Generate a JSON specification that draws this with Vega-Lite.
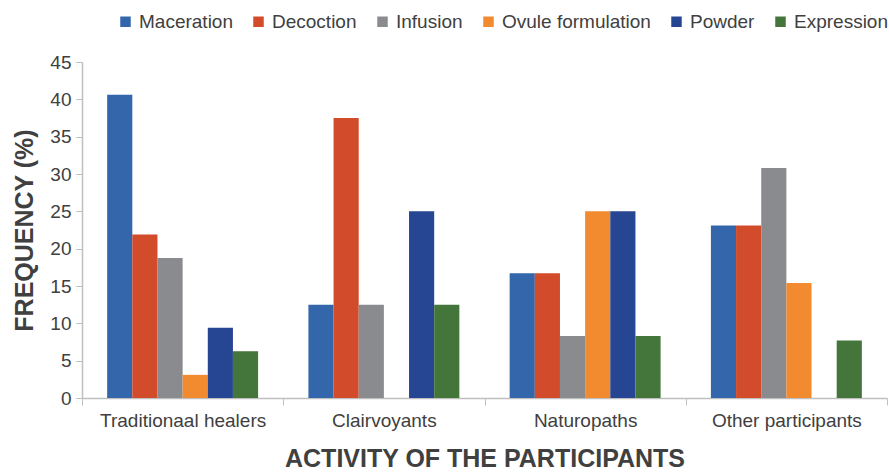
{
  "$schema": "https://vega.github.io/schema/vega-lite/v6.json",
  "autosize": {"type": "none"},
  "padding": {"left": 82, "top": 62, "right": 2, "bottom": 74},
  "width": 805,
  "height": 336,
  "background": "white",
  "data": {
    "values": [
      {"activity": "Traditionaal healers", "method": "Maceration", "freq": 40.6},
      {"activity": "Traditionaal healers", "method": "Decoction", "freq": 21.9},
      {"activity": "Traditionaal healers", "method": "Infusion", "freq": 18.75},
      {"activity": "Traditionaal healers", "method": "Ovule formulation", "freq": 3.1},
      {"activity": "Traditionaal healers", "method": "Powder", "freq": 9.4},
      {"activity": "Traditionaal healers", "method": "Expression", "freq": 6.25},
      {"activity": "Clairvoyants", "method": "Maceration", "freq": 12.5},
      {"activity": "Clairvoyants", "method": "Decoction", "freq": 37.5},
      {"activity": "Clairvoyants", "method": "Infusion", "freq": 12.5},
      {"activity": "Clairvoyants", "method": "Ovule formulation", "freq": 0},
      {"activity": "Clairvoyants", "method": "Powder", "freq": 25},
      {"activity": "Clairvoyants", "method": "Expression", "freq": 12.5},
      {"activity": "Naturopaths", "method": "Maceration", "freq": 16.7},
      {"activity": "Naturopaths", "method": "Decoction", "freq": 16.7},
      {"activity": "Naturopaths", "method": "Infusion", "freq": 8.3},
      {"activity": "Naturopaths", "method": "Ovule formulation", "freq": 25},
      {"activity": "Naturopaths", "method": "Powder", "freq": 25},
      {"activity": "Naturopaths", "method": "Expression", "freq": 8.3},
      {"activity": "Other participants", "method": "Maceration", "freq": 23.1},
      {"activity": "Other participants", "method": "Decoction", "freq": 23.1},
      {"activity": "Other participants", "method": "Infusion", "freq": 30.8},
      {"activity": "Other participants", "method": "Ovule formulation", "freq": 15.4},
      {"activity": "Other participants", "method": "Powder", "freq": 0},
      {"activity": "Other participants", "method": "Expression", "freq": 7.7}
    ]
  },
  "config": {
    "font": "Liberation Sans",
    "view": {"stroke": null}
  },
  "mark": {"type": "bar"},
  "encoding": {
    "x": {
      "field": "activity",
      "type": "nominal",
      "sort": ["Traditionaal healers", "Clairvoyants", "Naturopaths", "Other participants"],
      "scale": {"paddingInner": 0, "paddingOuter": 0},
      "axis": {
        "title": "ACTIVITY OF THE PARTICIPANTS",
        "titleFont": "Liberation Sans",
        "titleFontSize": 25,
        "titleFontWeight": "bold",
        "titleColor": "#404040",
        "titlePadding": 16,
        "labelAngle": 0,
        "labelFontSize": 19,
        "labelColor": "#404040",
        "labelPadding": 6,
        "tickBand": "extent",
        "tickSize": 7,
        "tickColor": "#bfbfbf",
        "domainColor": "#bfbfbf",
        "domainWidth": 1.5
      }
    },
    "xOffset": {
      "field": "method",
      "type": "nominal",
      "sort": ["Maceration", "Decoction", "Infusion", "Ovule formulation", "Powder", "Expression"],
      "scale": {"paddingInner": 0, "paddingOuter": 1}
    },
    "y": {
      "field": "freq",
      "type": "quantitative",
      "scale": {"domain": [0, 45]},
      "axis": {
        "title": "FREQUENCY (%)",
        "titleFontSize": 25,
        "titleFontWeight": "bold",
        "titleColor": "#404040",
        "titlePadding": 12,
        "values": [0, 5, 10, 15, 20, 25, 30, 35, 40, 45],
        "labelFontSize": 19,
        "labelColor": "#404040",
        "labelPadding": 5,
        "grid": false,
        "tickSize": 6,
        "tickColor": "#bfbfbf",
        "domainColor": "#bfbfbf",
        "domainWidth": 1.5
      }
    },
    "color": {
      "field": "method",
      "type": "nominal",
      "sort": ["Maceration", "Decoction", "Infusion", "Ovule formulation", "Powder", "Expression"],
      "scale": {
        "domain": ["Maceration", "Decoction", "Infusion", "Ovule formulation", "Powder", "Expression"],
        "range": ["#3366AA", "#D24B2A", "#8A8B8E", "#F28A30", "#264593", "#44753A"]
      },
      "legend": {
        "title": null,
        "orient": "none",
        "direction": "horizontal",
        "legendX": 34,
        "legendY": -50,
        "symbolType": "square",
        "symbolSize": 110,
        "symbolStrokeWidth": 0,
        "labelFontSize": 19,
        "labelColor": "#404040",
        "labelOffset": 4,
        "columnPadding": 16,
        "labelLimit": 300
      }
    }
  }
}
